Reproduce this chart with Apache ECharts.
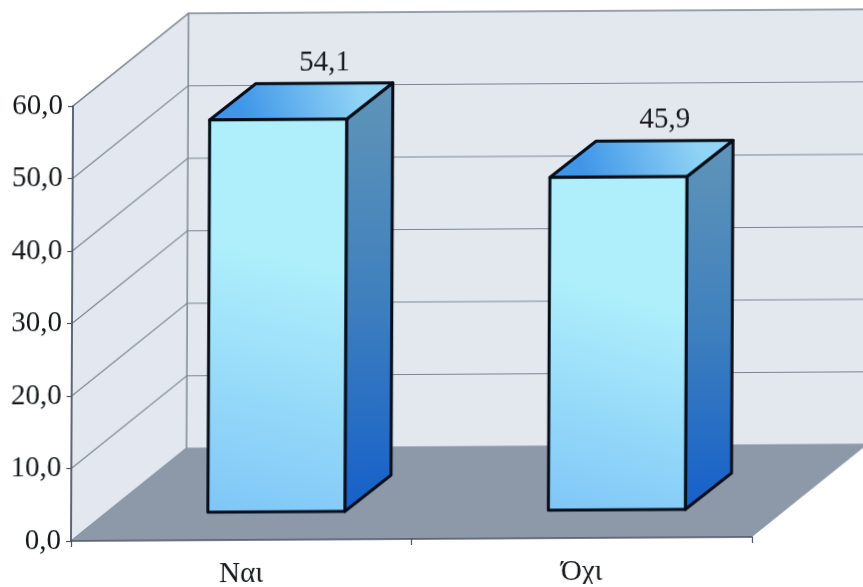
<!DOCTYPE html>
<html>
<head>
<meta charset="utf-8">
<script src="https://cdn.jsdelivr.net/npm/echarts@6/dist/echarts.min.js"></script>
<style>
  html, body { margin: 0; padding: 0; background: #fff; overflow: hidden; }
  /* Slight keystone of the printed figure: the baseline climbs and the uprights lean right */
  #chart { width: 863px; height: 587px; transform-origin: 71px 541px; transform: matrix(1, -0.0059, -0.0046, 1, 0, 0); }
</style>
</head>
<body>
<div id="chart"></div>
<script>
const categories = ['Ναι', 'Όχι'];
const percentages = [54.1, 45.9];
const axisTicks = [0, 10, 20, 30, 40, 50, 60];

// Oblique projection used for the box: offset from the front plane to the back wall
const wallDepth = { x: 115, y: -92 };
const barDepth = { x: 46, y: -36 };
const barInset = { x: 35, y: -28 };
const barWidth = 137;

const serif = '"Liberation Serif", "DejaVu Serif", serif';
const gridColor = '#7c8590';
const inkColor = '#15181c';
const decimal = (v, digits) => v.toFixed(digits).replace('.', ',');

const linear = (x, y, x2, y2, stops) => ({
  type: 'linear', x, y, x2, y2,
  colorStops: stops.map((color, i) => ({ offset: i / (stops.length - 1), color }))
});

function renderWalls(params, api) {
  const c = params.coordSys;
  const x0 = c.x, x1 = c.x + c.width, yTop = c.y, yBase = c.y + c.height;
  const dx = wallDepth.x, dy = wallDepth.y;
  return {
    type: 'group',
    children: [
      { type: 'polygon', shape: { points: [[x0 + dx, yTop + dy], [x1 + dx, yTop + dy], [x1 + dx, yBase + dy], [x0 + dx, yBase + dy]] },
        style: { fill: '#e3e8ef', stroke: gridColor, lineWidth: 1.2 } },
      { type: 'polygon', shape: { points: [[x0, yTop], [x0 + dx, yTop + dy], [x0 + dx, yBase + dy], [x0, yBase]] },
        style: { fill: '#e2e7f0', stroke: gridColor, lineWidth: 1.2 } },
      { type: 'polygon', shape: { points: [[x0, yBase], [x1, yBase], [x1 + dx, yBase + dy], [x0 + dx, yBase + dy]] },
        style: { fill: '#8d98a9' } }
    ]
  };
}

function renderGridline(params, api) {
  const c = params.coordSys;
  const y = api.coord([0, api.value(1)])[1];
  return {
    type: 'polyline',
    shape: { points: [[c.x, y], [c.x + wallDepth.x, y + wallDepth.y], [c.x + c.width + wallDepth.x, y + wallDepth.y]] },
    style: { stroke: gridColor, lineWidth: 1.1, fill: null }
  };
}

function renderBar(params, api) {
  const value = api.value(1);
  const base = api.coord([api.value(0), 0]);
  const top = api.coord([api.value(0), value]);
  const xl = base[0] + barInset.x - barWidth / 2;
  const xr = xl + barWidth;
  const yb = base[1] + barInset.y;
  const yt = top[1] + barInset.y;
  const dx = barDepth.x, dy = barDepth.y;
  const edge = { stroke: '#040d18', lineWidth: 3, lineJoin: 'round' };
  return {
    type: 'group',
    children: [
      { type: 'polygon', shape: { points: [[xr, yt], [xr + dx, yt + dy], [xr + dx, yb + dy], [xr, yb]] },
        style: { fill: linear(0, 0, 0, 1, ['#6095b8', '#3f80bd', '#1560ca']), ...edge } },
      { type: 'polygon', shape: { points: [[xl, yt], [xl + dx, yt + dy], [xr + dx, yt + dy], [xr, yt]] },
        style: { fill: linear(0.2, 1, 0.8, 0, ['#3f96e8', '#92d4f5']), ...edge } },
      { type: 'polygon', shape: { points: [[xl, yt], [xr, yt], [xr, yb], [xl, yb]] },
        style: { fill: linear(0, 1, 0.45, 0.35, ['#7fc6f7', '#aeeffb']), ...edge } },
      { type: 'text', style: {
          text: decimal(value, 1), x: (xl + xr) / 2 + dx, y: yt + dy - 6,
          align: 'center', verticalAlign: 'bottom', fill: inkColor, font: '29px ' + serif } }
    ]
  };
}

const chart = echarts.init(document.getElementById('chart'), null, { renderer: 'canvas' });
chart.setOption({
  animation: false,
  backgroundColor: '#fff',
  grid: { left: 71, top: 106, width: 681, height: 435, outerBoundsMode: 'none' },
  xAxis: {
    type: 'category',
    data: categories,
    z: 5,
    axisLine: { lineStyle: { color: '#4b5563', width: 1.6 } },
    axisTick: { show: true, alignWithLabel: false, length: 6, lineStyle: { color: '#4b5563', width: 1.2 } },
    axisLabel: { margin: 20, color: inkColor, fontFamily: serif, fontSize: 29 }
  },
  yAxis: {
    type: 'value',
    min: 0,
    max: 60,
    interval: 10,
    z: 5,
    axisLine: { show: true, lineStyle: { color: '#4b5563', width: 1.6 } },
    axisTick: { show: true, length: 5, lineStyle: { color: '#4b5563', width: 1.2 } },
    splitLine: { show: false },
    axisLabel: { margin: 10, color: inkColor, fontFamily: serif, fontSize: 29, formatter: v => decimal(v, 1) }
  },
  series: [
    { type: 'custom', silent: true, z: 1, clip: false, renderItem: renderWalls, data: [[0, 0]] },
    { type: 'custom', silent: true, z: 2, clip: false, renderItem: renderGridline,
      data: axisTicks.slice(1).map(t => [0, t]) },
    { type: 'custom', silent: true, z: 3, clip: false, renderItem: renderBar,
      data: percentages.map((p, i) => [i, p]) }
  ]
});
</script>
</body>
</html>
